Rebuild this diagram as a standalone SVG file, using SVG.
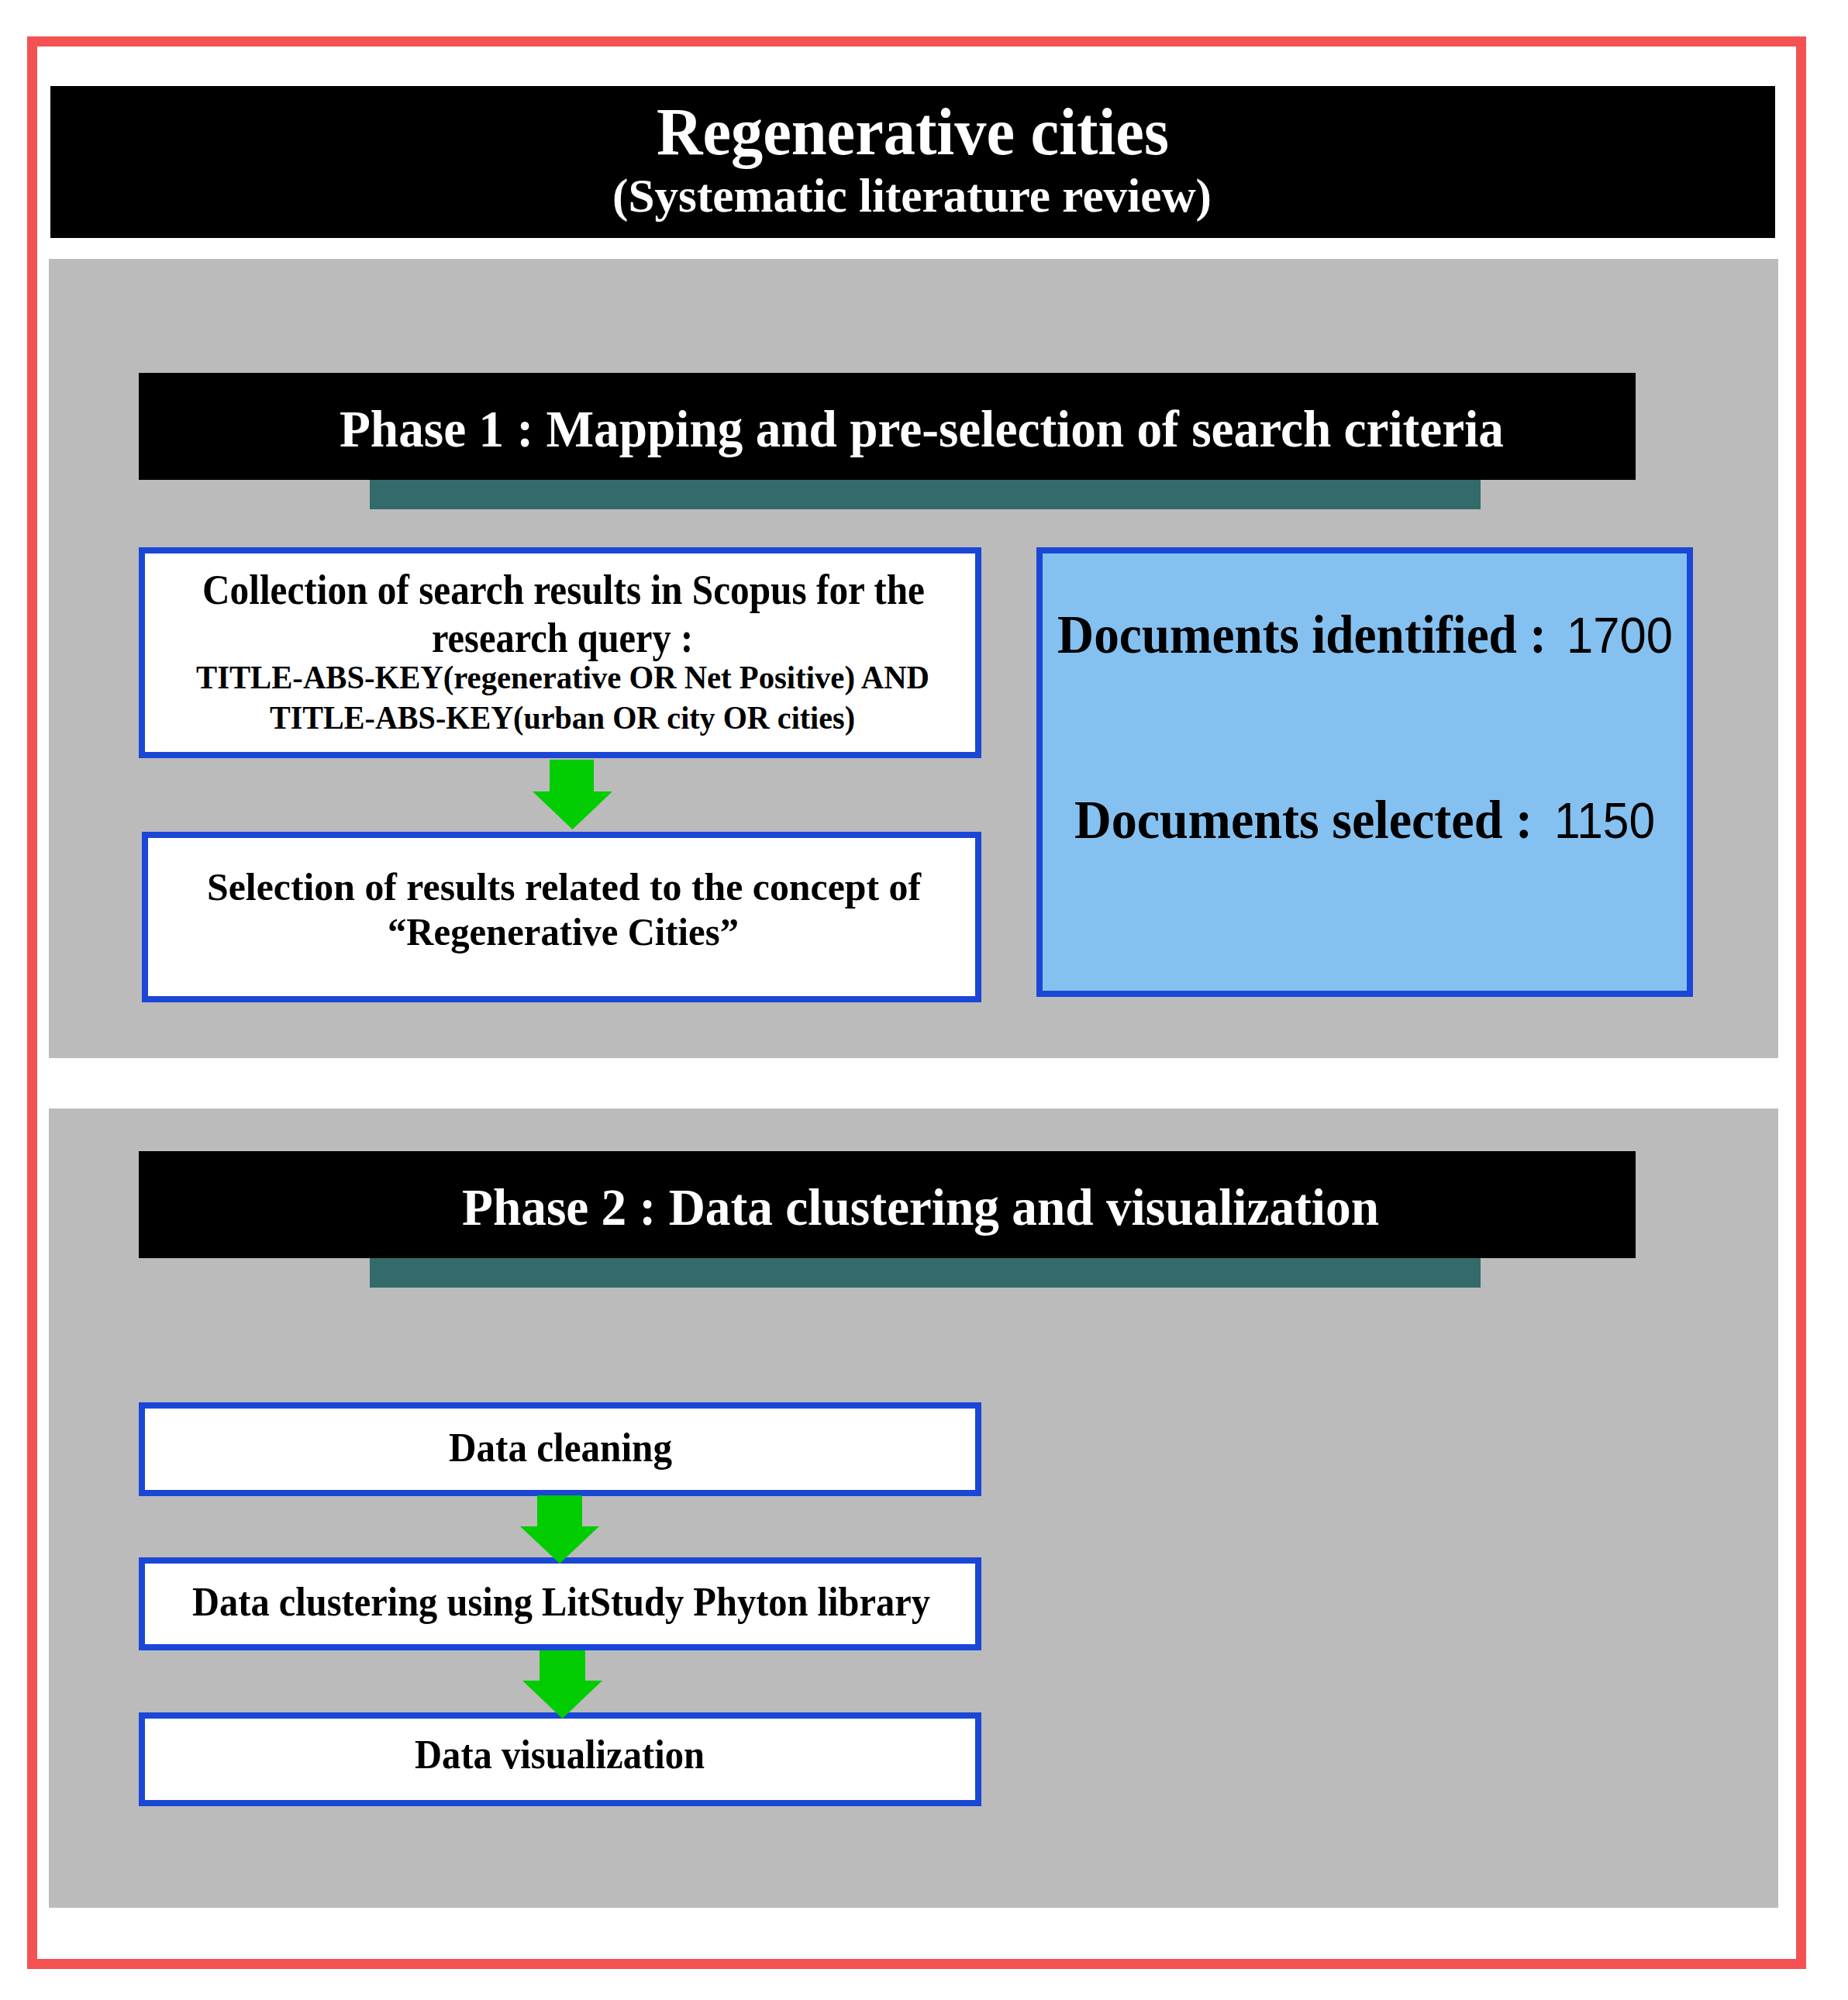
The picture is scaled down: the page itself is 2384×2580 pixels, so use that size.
<svg xmlns="http://www.w3.org/2000/svg" width="2384" height="2580" viewBox="0 0 2384 2580">
<style>
.serif{font-family:"Liberation Serif","Times New Roman",serif;font-weight:bold}
.sans{font-family:"Liberation Sans",Arial,sans-serif;font-weight:normal}
.white{fill:#ffffff}
.dark{fill:#000000}
.panel{fill:#bbbbbb}
.hdr{fill:#000000}
.teal{fill:#336b6b}
.box{fill:#ffffff;stroke:#1a47d6;stroke-width:8}
.docbox{fill:#85c1f0;stroke:#1a47d6;stroke-width:8}
.arrow{fill:#00cc00}
</style>
<rect x="0" y="0" width="2384" height="2580" fill="#ffffff"/>
<rect x="41.5" y="53.5" width="2282" height="2480" fill="#ffffff" stroke="#f45252" stroke-width="13"/>

<g id="title">
<rect x="65" y="111" width="2225" height="196" class="hdr"/>
<text class="serif white" x="847" y="199" font-size="86" textLength="661" lengthAdjust="spacingAndGlyphs">Regenerative cities</text>
<text class="serif white" x="790" y="273" font-size="62" textLength="773" lengthAdjust="spacingAndGlyphs">(Systematic literature review)</text>
</g>

<g id="phase1-panel">
<rect x="63" y="334" width="2231" height="1031" class="panel"/>
</g>
<g id="phase1-header">
<rect x="477" y="619" width="1433" height="38" class="teal"/>
<rect x="179" y="481" width="1931" height="138" class="hdr"/>
<text class="serif white" x="438" y="576" font-size="68" textLength="1502" lengthAdjust="spacingAndGlyphs">Phase 1 : Mapping and pre-selection of search criteria</text>
</g>

<g id="collection">
<rect x="183" y="710" width="1079" height="264" class="box"/>
<text class="serif dark" x="261" y="779" font-size="54" textLength="932" lengthAdjust="spacingAndGlyphs">Collection of search results in Scopus for the</text>
<text class="serif dark" x="557" y="841" font-size="54" textLength="337" lengthAdjust="spacingAndGlyphs">research query :</text>
<text class="serif dark" x="253" y="888" font-size="42" textLength="946" lengthAdjust="spacingAndGlyphs">TITLE-ABS-KEY(regenerative OR Net Positive) AND</text>
<text class="serif dark" x="348" y="940" font-size="42" textLength="755" lengthAdjust="spacingAndGlyphs">TITLE-ABS-KEY(urban OR city OR cities)</text>
</g>

<g id="selection">
<rect x="187" y="1077" width="1075" height="212" class="box"/>
<text class="serif dark" x="267" y="1161" font-size="50" textLength="921" lengthAdjust="spacingAndGlyphs">Selection of results related to the concept of</text>
<text class="serif dark" x="500" y="1219" font-size="50" textLength="453" lengthAdjust="spacingAndGlyphs">“Regenerative Cities”</text>
</g>

<g id="documents">
<rect x="1341" y="710" width="839" height="572" class="docbox"/>
<text class="serif dark" x="1364" y="842" font-size="69" textLength="631" lengthAdjust="spacingAndGlyphs">Documents identified :</text>
<text class="sans dark" x="2021" y="842" font-size="64" textLength="137" lengthAdjust="spacingAndGlyphs">1700</text>
<text class="serif dark" x="1386" y="1081" font-size="69" textLength="591" lengthAdjust="spacingAndGlyphs">Documents selected :</text>
<text class="sans dark" x="2005" y="1081" font-size="64" textLength="130" lengthAdjust="spacingAndGlyphs">1150</text>
</g>

<g id="phase2-panel">
<rect x="63" y="1430" width="2231" height="1031" class="panel"/>
</g>
<g id="phase2-header">
<rect x="477" y="1623" width="1433" height="38" class="teal"/>
<rect x="179" y="1485" width="1931" height="138" class="hdr"/>
<text class="serif white" x="596" y="1580" font-size="68" textLength="1183" lengthAdjust="spacingAndGlyphs">Phase 2 : Data clustering and visualization</text>
</g>

<g id="cleaning">
<rect x="183" y="1813" width="1079" height="113" class="box"/>
<text class="serif dark" x="579" y="1885" font-size="52" textLength="288" lengthAdjust="spacingAndGlyphs">Data cleaning</text>
</g>

<g id="clustering">
<rect x="183" y="2013" width="1079" height="112" class="box"/>
<text class="serif dark" x="248" y="2084" font-size="52" textLength="952" lengthAdjust="spacingAndGlyphs">Data clustering using LitStudy Phyton library</text>
</g>

<g id="visualization">
<rect x="183" y="2213" width="1079" height="113" class="box"/>
<text class="serif dark" x="535" y="2281" font-size="52" textLength="374" lengthAdjust="spacingAndGlyphs">Data visualization</text>
</g>

<g id="connectors">
<polygon class="arrow" points="709,980 766,980 766,1021 790,1021 738.5,1070 687,1021 709,1021"/>
<polygon class="arrow" points="693,1929 751,1929 751,1969 773,1969 722,2017 671,1969 693,1969"/>
<polygon class="arrow" points="696,2129 755,2129 755,2168 777,2168 725.5,2217 674,2168 696,2168"/>
</g>
</svg>
